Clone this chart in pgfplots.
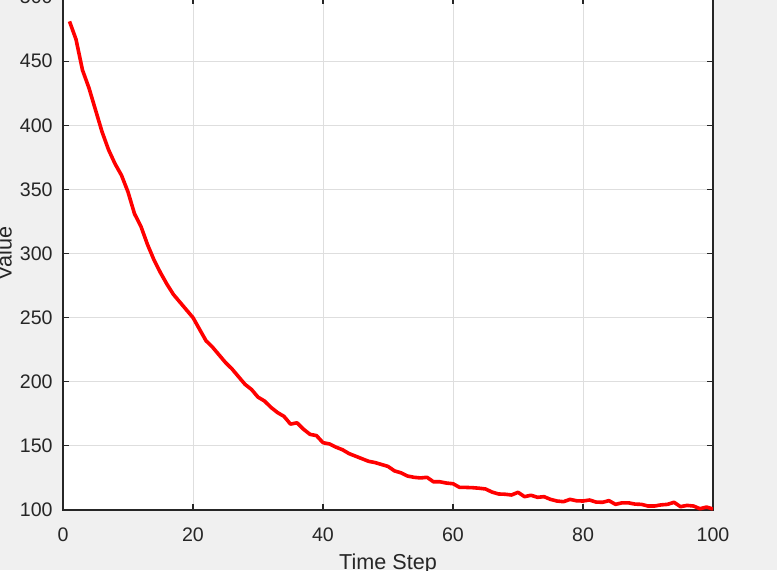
\documentclass[border=0pt]{standalone}
\usepackage{pgfplots}
\pgfplotsset{compat=1.18}
\usepackage{fontspec}
\setmainfont{Liberation Sans}

\definecolor{axgray}{RGB}{38,38,38}
\definecolor{gridgray}{RGB}{222,222,222}
\definecolor{figbg}{RGB}{240,240,240}

\pgfplotstableread{
x y
1 481
2 467
3 443
4 429
5 412
6 395
7 381
8 370
9 361
10 348
11 331
12 321
13 307
14 295
15 285
16 276
17 268
18 262
19 256
20 250
21 241
22 232
23 227
24 221
25 215
26 210
27 204
28 198
29 194
30 188
31 185
32 180
33 176
34 173
35 167
36 168
37 163
38 159
39 158
40 152.5
41 151.5
42 149
43 147
44 144
45 142
46 140
47 138
48 137
49 135.5
50 134
51 130.5
52 129
53 126.5
54 125.5
55 125
56 125.5
57 122
58 122
59 121
60 120.5
61 117.7
62 117.6
63 117.4
64 117
65 116.4
66 114
67 112.5
68 112.3
69 111.7
70 113.8
71 110.4
72 111.5
73 109.9
74 110.4
75 108.3
76 107
77 106.5
78 108.3
79 107.2
80 107
81 107.8
82 106.2
83 106
84 107.3
85 104.4
86 105.6
87 105.6
88 104.6
89 104.4
90 103.1
91 103.1
92 104
93 104.4
94 106
95 102.6
96 103.6
97 103.1
98 101
99 102.3
100 100.8
}\series

\begin{document}
\begin{tikzpicture}
  % figure background (the reference is cropped on all sides)
  \fill[figbg] (-31.5pt,-30pt) rectangle (357pt,255pt);
  \begin{axis}[
      at={(0pt,0pt)}, anchor=south west,
      scale only axis, width=325pt, height=256.5pt,
      xmin=0, xmax=100, ymin=100, ymax=500,
      xtick={0,20,...,100}, ytick={100,150,...,500},
      axis background/.style={fill=white},
      axis line style={axgray, line width=0.6pt},
      tick pos=both, tick align=inside,
      major tick length=3.25pt,
      every tick/.style={axgray, line width=0.6pt},
      grid=major, major grid style={gridgray, line width=0.5pt},
      /pgf/number format/assume math mode=true,
      ticklabel style={font=\fontsize{9.8}{11}\selectfont, text=axgray},
      xticklabel style={inner sep=0pt, anchor=north, yshift=-8.5pt},
      yticklabel style={inner sep=0pt, anchor=east, xshift=-5pt},
      xlabel={Time Step}, ylabel={Value},
      xlabel style={at={(axis description cs:0.5,0)}, anchor=north, inner sep=0pt,
        yshift=-21.5pt, font=\fontsize{10.8}{12}\selectfont, text=axgray},
      % the label is rotated by 90 degrees, so its own y points to the left
      ylabel style={at={(axis description cs:0,0.5)}, anchor=base, inner sep=0pt,
        yshift=25.65pt, font=\fontsize{10.8}{12}\selectfont, text=axgray},
    ]
    \addplot[red, line width=1.8pt, line join=round] table[x=x, y=y] {\series};
  \end{axis}
  \pgfresetboundingbox
  \path[use as bounding box] (-31.5pt,-30pt) rectangle (357pt,255pt);
\end{tikzpicture}
\end{document}
